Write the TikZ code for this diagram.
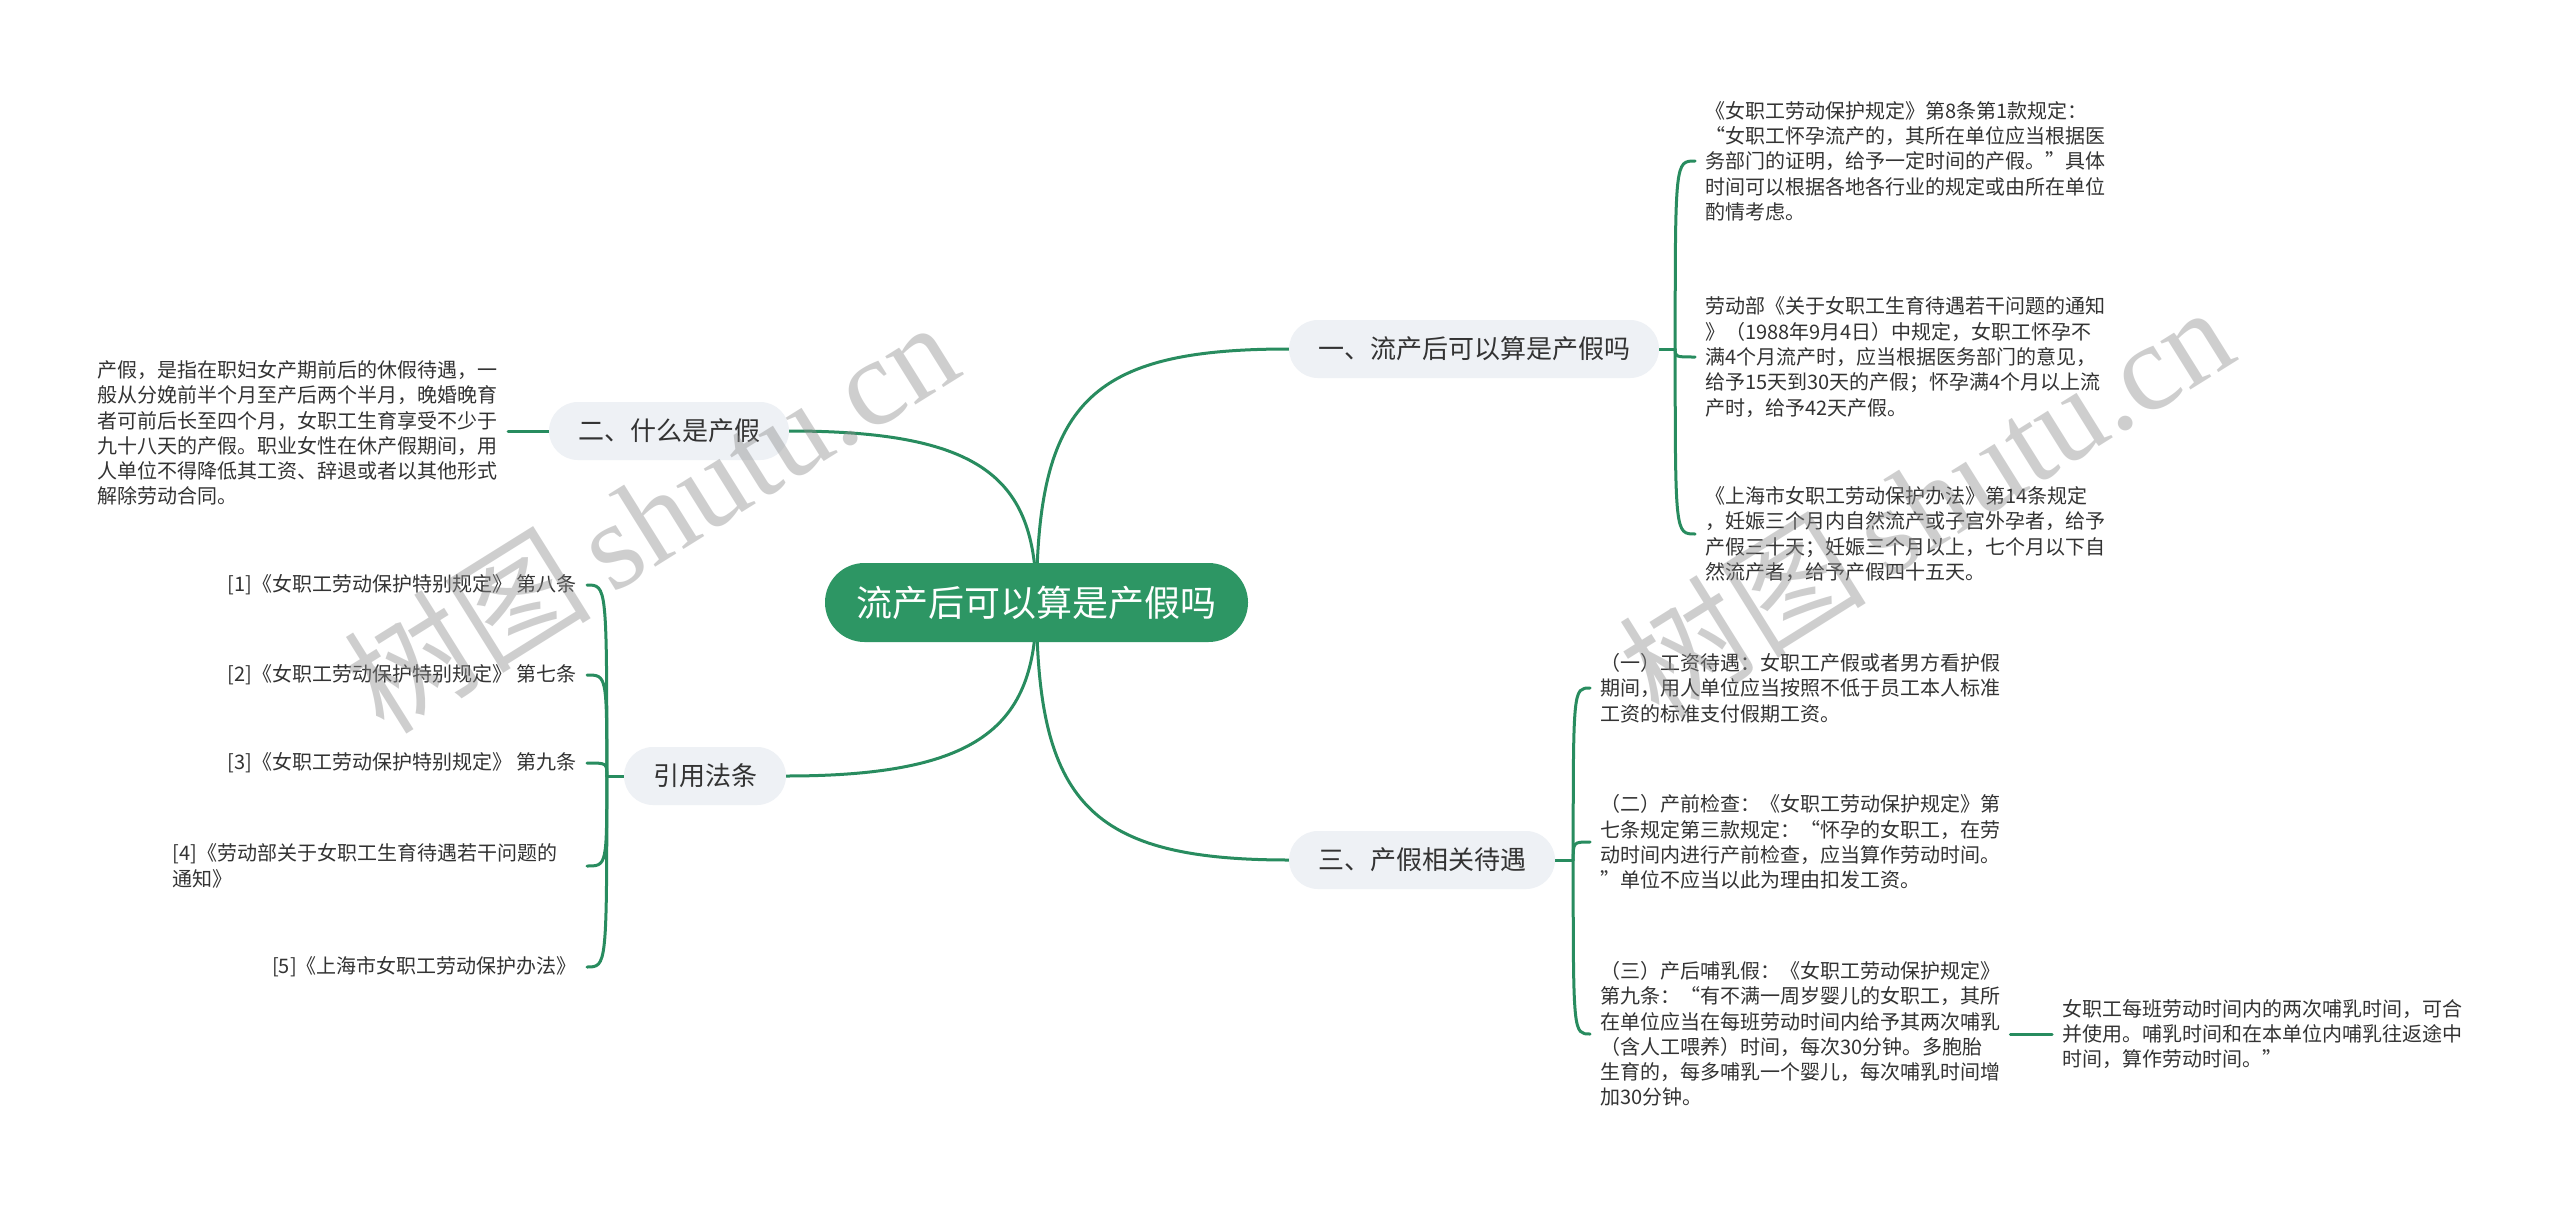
\documentclass[tikz,border=0pt]{standalone}
\usepackage{fontspec}
\setmainfont{Noto Sans CJK SC}
\newfontfamily\wmserif{Liberation Serif}
\usetikzlibrary{calc}
\definecolor{mgreen}{RGB}{45,150,100}
\definecolor{cgreen}{RGB}{40,140,95}
\definecolor{pillgray}{RGB}{238,241,245}
\definecolor{txt}{RGB}{51,51,51}
\definecolor{wmgray}{RGB}{140,140,140}
\pgfdeclarelayer{bg}
\pgfdeclarelayer{fg}
\pgfsetlayers{bg,main,fg}
\begin{document}
\begin{tikzpicture}[x=1pt,y=-1pt,
  central/.style={fill=mgreen, text=white, font=\fontsize{36}{42}\selectfont,
    minimum width=423pt, minimum height=79pt, rounded corners=39.5pt, inner sep=0pt},
  branch/.style={fill=pillgray, text=txt, font=\fontsize{26}{30}\selectfont,
    minimum height=58pt, inner xsep=29pt, inner ysep=0pt, rounded corners=29pt},
  tx/.style={text=txt, font=\fontsize{20}{25.3}\selectfont, align=left,
    inner xsep=10pt, inner ysep=0pt},
  conn/.style={draw=cgreen, line width=3pt, line cap=round},
  wmark/.style={text=wmgray, opacity=0.42, font=\fontsize{124}{130}\selectfont, inner sep=0pt}]
\begin{pgfonlayer}{bg}
\fill[white] (0,0) rectangle (2560,1207);
\end{pgfonlayer}
\useasboundingbox (0,0) rectangle (2560,1207);

% central and main branches
\node[central] (c) at (1036.5,602.5) {流产后可以算是产假吗};
\node[branch] (b1) at (1474,349) {一、流产后可以算是产假吗};
\node[branch] (b3) at (1422,860) {三、产假相关待遇};
\node[branch] (b2) at (669,431) {二、什么是产假};
\node[branch] (b4) at (705,776) {引用法条};

% right side texts of branch 1
\node[tx,anchor=west] (t1a) at (1695,161) {《女职工劳动保护规定》第8条第1款规定：\\“女职工怀孕流产的，其所在单位应当根据医\\务部门的证明，给予一定时间的产假。”具体\\时间可以根据各地各行业的规定或由所在单位\\酌情考虑。};
\node[tx,anchor=west] (t1b) at (1695,357) {劳动部《关于女职工生育待遇若干问题的通知\\》（1988年9月4日）中规定，女职工怀孕不\\满4个月流产时，应当根据医务部门的意见，\\给予15天到30天的产假；怀孕满4个月以上流\\产时，给予42天产假。};
\node[tx,anchor=west] (t1c) at (1695,534) {《上海市女职工劳动保护办法》第14条规定\\，妊娠三个月内自然流产或子宫外孕者，给予\\产假三十天；妊娠三个月以上，七个月以下自\\然流产者，给予产假四十五天。};

% branch 3 texts
\node[tx,anchor=west] (t3a) at (1590,688) {（一）工资待遇：女职工产假或者男方看护假\\期间，用人单位应当按照不低于员工本人标准\\工资的标准支付假期工资。};
\node[tx,anchor=west] (t3b) at (1590,842) {（二）产前检查：《女职工劳动保护规定》第\\七条规定第三款规定：“怀孕的女职工，在劳\\动时间内进行产前检查，应当算作劳动时间。\\”单位不应当以此为理由扣发工资。};
\node[tx,anchor=west] (t3c) at (1590,1034) {（三）产后哺乳假：《女职工劳动保护规定》\\第九条：“有不满一周岁婴儿的女职工，其所\\在单位应当在每班劳动时间内给予其两次哺乳\\（含人工喂养）时间，每次30分钟。多胞胎\\生育的，每多哺乳一个婴儿，每次哺乳时间增\\加30分钟。};
\node[tx,anchor=west] (t3c1) at (2052,1034) {女职工每班劳动时间内的两次哺乳时间，可合\\并使用。哺乳时间和在本单位内哺乳往返途中\\时间，算作劳动时间。”};

% branch 2 text
\node[tx,anchor=east] (t2) at (508,433) {产假，是指在职妇女产期前后的休假待遇，一\\般从分娩前半个月至产后两个半月，晚婚晚育\\者可前后长至四个月，女职工生育享受不少于\\九十八天的产假。职业女性在休产假期间，用\\人单位不得降低其工资、辞退或者以其他形式\\解除劳动合同。};

% references
\node[tx,anchor=east] (r1) at (587,585) {[1]《女职工劳动保护特别规定》 第八条};
\node[tx,anchor=east] (r2) at (587,675) {[2]《女职工劳动保护特别规定》 第七条};
\node[tx,anchor=east] (r3) at (587,763) {[3]《女职工劳动保护特别规定》 第九条};
\node[tx,anchor=east,text width=404pt] (r4) at (587,866) {[4]《劳动部关于女职工生育待遇若干问题的\\通知》};
\node[tx,anchor=east] (r5) at (587,967) {[5]《上海市女职工劳动保护办法》};

% connectors
\begin{pgfonlayer}{bg}
\draw[conn] (c.center) .. controls +(0,-200) and +(-200,0) .. (b1.west);
\draw[conn] (c.center) .. controls +(0,200) and +(-200,0) .. (b3.west);
\draw[conn] (c.center) .. controls +(0,-120) and +(200,0) .. (b2.east);
\draw[conn] (c.center) .. controls +(0,120) and +(200,0) .. (b4.east);

\draw[conn] (b1.east) -- ++(16,0) coordinate (j1);
\foreach \t in {t1a,t1b,t1c} \draw[conn] (j1) .. controls (j1 |- \t.west) .. (\t.west);

\draw[conn] (b3.east) -- ++(18,0) coordinate (j3);
\foreach \t in {t3a,t3b,t3c} \draw[conn] (j3) .. controls (j3 |- \t.west) .. (\t.west);

\draw[conn] (b4.west) -- ++(-17,0) coordinate (j4);
\foreach \t in {r1,r2,r3,r4,r5} \draw[conn] (j4) .. controls (j4 |- \t.east) .. (\t.east);

\draw[conn] (b2.west) -- (t2.east |- b2.west);
\draw[conn] (t3c.east) -- (t3c1.west);
\end{pgfonlayer}

% watermarks
\begin{pgfonlayer}{fg}
\node[wmark, rotate=32] (wm1) at (650,515) {树图{\wmserif\,shutu.cn}};
\node[wmark, rotate=32] (wm2) at (1925,500) {树图{\wmserif\,shutu.cn}};
\end{pgfonlayer}
\end{tikzpicture}
\end{document}
